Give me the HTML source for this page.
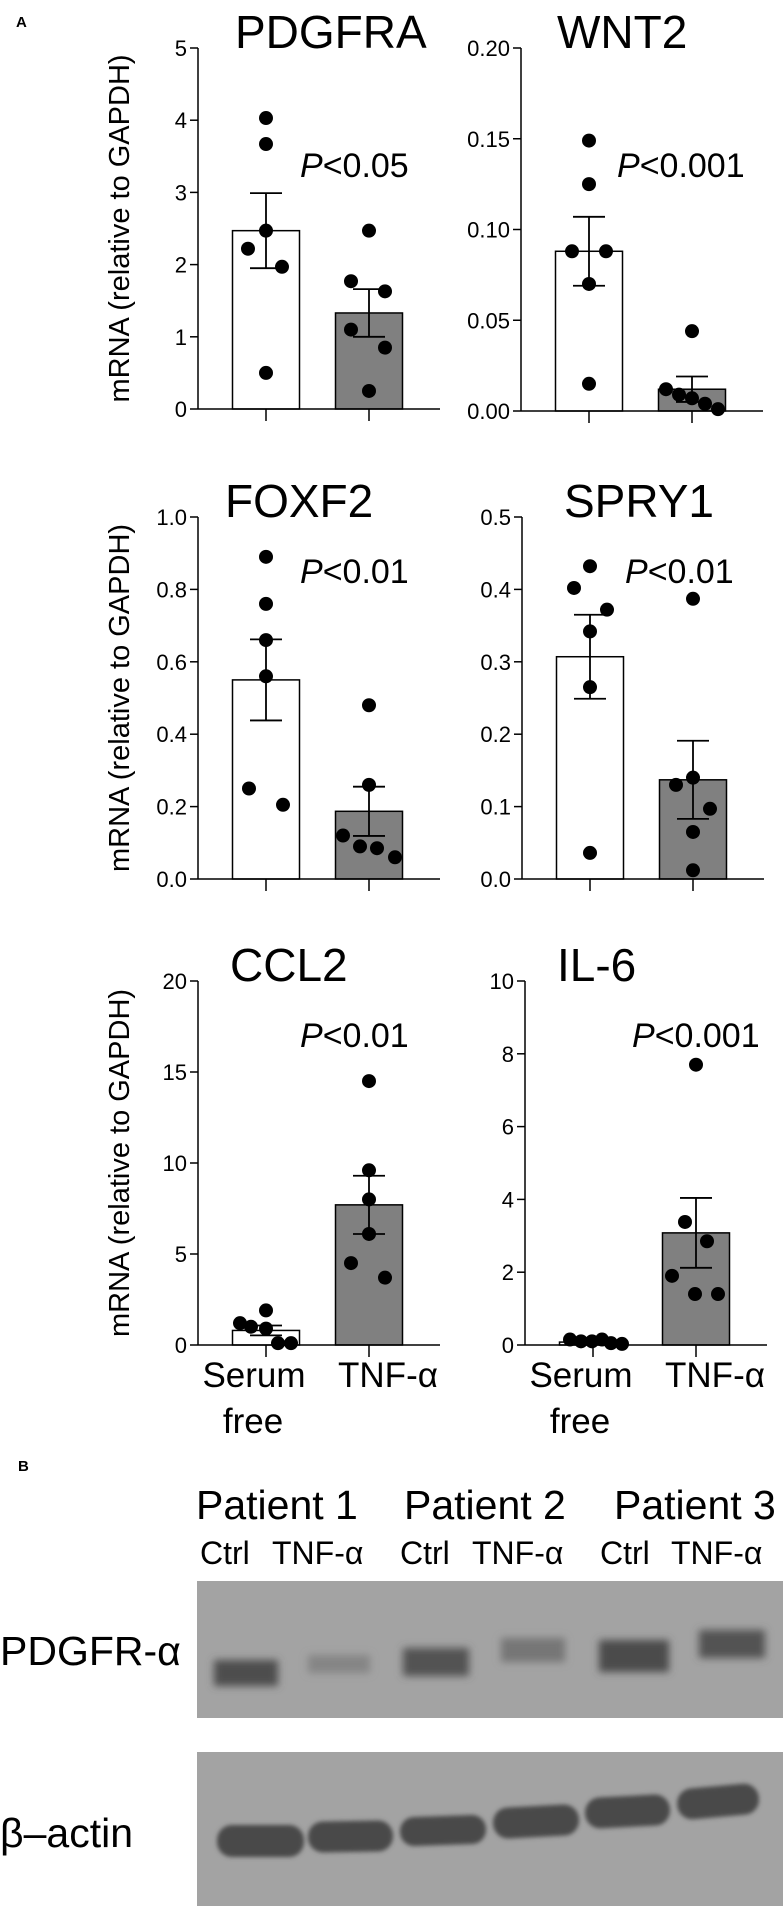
<!DOCTYPE html>
<html><head><meta charset="utf-8"><style>
html,body{margin:0;padding:0;background:#fff;}
svg{display:block;font-family:"Liberation Sans",Arial,sans-serif;}
</style></head><body>
<svg id="fig" width="783" height="1906" viewBox="0 0 783 1906" xmlns="http://www.w3.org/2000/svg">
<defs>
<filter id="blur4" x="-20%" y="-60%" width="140%" height="220%"><feGaussianBlur stdDeviation="4"/></filter>
<filter id="blur2" x="-20%" y="-50%" width="140%" height="200%"><feGaussianBlur stdDeviation="2"/></filter>
</defs>
<text x="16" y="27" font-size="15" font-weight="bold">A</text>
<text x="18" y="1471" font-size="15" font-weight="bold">B</text>
<g id="charts"></g>

<g>
<text x="196" y="1519" font-size="41">Patient 1</text>
<text x="404" y="1519" font-size="41">Patient 2</text>
<text x="614" y="1519" font-size="41">Patient 3</text>
<g font-size="32">
<text x="200" y="1564">Ctrl</text>
<text x="272" y="1564">TNF-α</text>
<text x="400" y="1564">Ctrl</text>
<text x="472" y="1564">TNF-α</text>
<text x="600" y="1564">Ctrl</text>
<text x="671" y="1564">TNF-α</text>
</g>
<text x="0" y="1665" font-size="41">PDGFR-α</text>
<text x="0" y="1847" font-size="41">β–actin</text>
<rect x="197" y="1581" width="586" height="137" fill="#a3a3a3"/>
<g filter="url(#blur4)">
<rect x="214" y="1660" width="64" height="26" fill="#4e4e4e"/>
<rect x="308" y="1655" width="62" height="18" fill="#858585"/>
<rect x="403" y="1648" width="66" height="28" fill="#525252"/>
<rect x="501" y="1638" width="64" height="24" fill="#767676"/>
<rect x="599" y="1640" width="70" height="32" fill="#4c4c4c"/>
<rect x="699" y="1630" width="66" height="28" fill="#525252"/>
</g>
<rect x="197" y="1752" width="586" height="154" fill="#a3a3a3"/>
<g fill="#4a4a4a" filter="url(#blur2)">
<rect x="217" y="1825" width="87" height="32" rx="15"/>
<rect x="308" y="1821" width="85" height="31" rx="15" transform="rotate(-1 350 1836)"/>
<rect x="400" y="1816" width="86" height="29" rx="14" transform="rotate(-2 443 1830)"/>
<rect x="493" y="1806" width="86" height="31" rx="15" transform="rotate(-3 536 1821)"/>
<rect x="585" y="1796" width="85" height="31" rx="15" transform="rotate(-3 627 1811)"/>
<rect x="677" y="1786" width="82" height="31" rx="15" transform="rotate(-5 718 1801)"/>
</g>
</g>
</svg>
<script>
const genes = ['PDGFRA','WNT2','FOXF2','SPRY1','CCL2','IL-6'];
const pLabels = ['<0.05','<0.001','<0.01','<0.01','<0.01','<0.001'];
const yMax = [5,0.2,1.0,0.5,20,10];
const tickStep = [1,0.05,0.2,0.1,5,2];
const tickDecimals = [0,2,1,1,0,0];
const meanSF = [2.47,0.088,0.55,0.307,0.8,0.08];
const meanTNF = [1.33,0.012,0.187,0.137,7.7,3.08];
const semSF = [0.52,0.019,0.112,0.058,0.27,0.03];
const semTNF = [0.33,0.007,0.068,0.054,1.6,0.96];
const dotsSF = [[4.03,3.67,2.47,2.22,1.97,0.5],[0.149,0.125,0.088,0.088,0.070,0.015],[0.89,0.76,0.66,0.56,0.25,0.205],[0.432,0.402,0.372,0.342,0.265,0.036],[1.9,1.2,1.0,0.9,0.1,0.1],[0.15,0.1,0.1,0.15,0.05,0.03]];
const dotsTNF = [[2.47,1.77,1.63,1.1,0.85,0.25],[0.044,0.012,0.009,0.007,0.004,0.001],[0.48,0.26,0.12,0.09,0.085,0.06],[0.387,0.14,0.13,0.097,0.065,0.012],[14.5,9.6,8.0,6.1,4.5,3.7],[7.7,3.38,2.85,1.9,1.4,1.4]];
const groupLabels = ['Serum free','TNF-α'];

// layout (not data)
const axisX = [198,521,198,522,198,525];
const plotTop = [48,48,517,517,981,981];
const plotBottom = [409,411,879,879,1345,1345];
const titleX = [235,557,225,564,230,557];
const pX = [300,617,300,625,300,632];
const pY = [177,177,583,583,1047,1047];
const jitSF = [[0,0,0,-18,16,0],[0,0,-17,17,0,0],[0,0,0,0,-17,17],[0,-16,17,0,0,0],[0,-26,-15,0,12,25],[-23,-12,-1,9,18,29]];
const jitTNF = [[0,-18,16,-18,16,0],[0,-26,-13,0,13,26],[0,0,-26,-9,8,26],[0,0,-17,17,0,0],[0,0,0,0,-18,16],[0,-11,11,-24,-1,22]];

const NS='http://www.w3.org/2000/svg';
const root=document.getElementById('charts');
function mk(tag,attrs,parent){const e=document.createElementNS(NS,tag);for(const k in attrs)e.setAttribute(k,attrs[k]);parent.appendChild(e);return e;}

genes.forEach((g,i)=>{
  const grp=mk('g',{},root);
  
  
  const x0=axisX[i], top=plotTop[i], bot=plotBottom[i];
  const y=v=>bot-(v/yMax[i])*(bot-top);
  const cx=[x0+68,x0+171];
  const t=mk('text',{x:titleX[i],y:top,'font-size':46},grp); t.textContent=g;
  
  
  const pt=mk('text',{x:pX[i],y:pY[i],'font-size':34},grp);
  const pi=mk('tspan',{'font-style':'italic'},pt); pi.textContent='P';
  const pr=mk('tspan',{},pt); pr.textContent=pLabels[i];
  
  
  if(i%2===0){
    const cy=(top+bot)/2;
    const yt=mk('text',{x:0,y:0,'font-size':29,'text-anchor':'middle',transform:`translate(129 ${cy}) rotate(-90)`},grp);
    yt.textContent='mRNA (relative to GAPDH)';
    
    
  }
  const means=[meanSF[i],meanTNF[i]], sems=[semSF[i],semTNF[i]], fills=['#fff','#808080'];
  [0,1].forEach(k=>{
    const b=mk('rect',{x:cx[k]-33.5,y:y(means[k]),width:67,height:bot-y(means[k]),fill:fills[k],stroke:'#000','stroke-width':1.5},grp);
    
    
  });
  const ya=mk('line',{x1:x0,y1:top,x2:x0,y2:bot,stroke:'#000','stroke-width':1.5},grp);
  
  
  const xa=mk('line',{x1:x0,y1:bot,x2:x0+242,y2:bot,stroke:'#000','stroke-width':1.5},grp);
  
  
  const n=Math.round(yMax[i]/tickStep[i]);
  for(let j=0;j<=n;j++){
    const v=j*tickStep[i], yy=y(v);
    mk('line',{x1:x0-8,y1:yy,x2:x0,y2:yy,stroke:'#000','stroke-width':1.5},grp);
    const tl=mk('text',{x:x0-11,y:yy+8,'font-size':22,'text-anchor':'end'},grp);
    tl.textContent=v.toFixed(tickDecimals[i]);
    
    
  }
  cx.forEach(c=>mk('line',{x1:c,y1:bot,x2:c,y2:bot+12,stroke:'#000','stroke-width':1.5},grp));
  if(i>=4){
    const l1=mk('text',{x:x0+56,y:bot+42,'font-size':35,'text-anchor':'middle'},grp); l1.textContent='Serum';
    
    
    const l2=mk('text',{x:x0+55,y:bot+88,'font-size':35,'text-anchor':'middle'},grp); l2.textContent='free';
    
    
    const l3=mk('text',{x:x0+190,y:bot+42,'font-size':35,'text-anchor':'middle'},grp); l3.textContent=groupLabels[1];
    
    
  }
  const ds=[dotsSF[i],dotsTNF[i]], js=[jitSF[i],jitTNF[i]];
  [0,1].forEach(k=>{
    ds[k].forEach((v,m)=>{
      const d=mk('ellipse',{cx:cx[k]+js[k][m],cy:y(v),rx:7,ry:7,fill:'#000'},grp);
      
      
    });
  });
  [0,1].forEach(k=>{
    const hi=y(means[k]+sems[k]), lo=y(Math.max(0,means[k]-sems[k]));
    const e=mk('path',{d:`M${cx[k]},${hi}V${lo}M${cx[k]-16},${hi}H${cx[k]+16}M${cx[k]-16},${lo}H${cx[k]+16}`,stroke:'#000','stroke-width':1.8,fill:'none'},grp);
    
    
  });
});
</script>
</body></html>
